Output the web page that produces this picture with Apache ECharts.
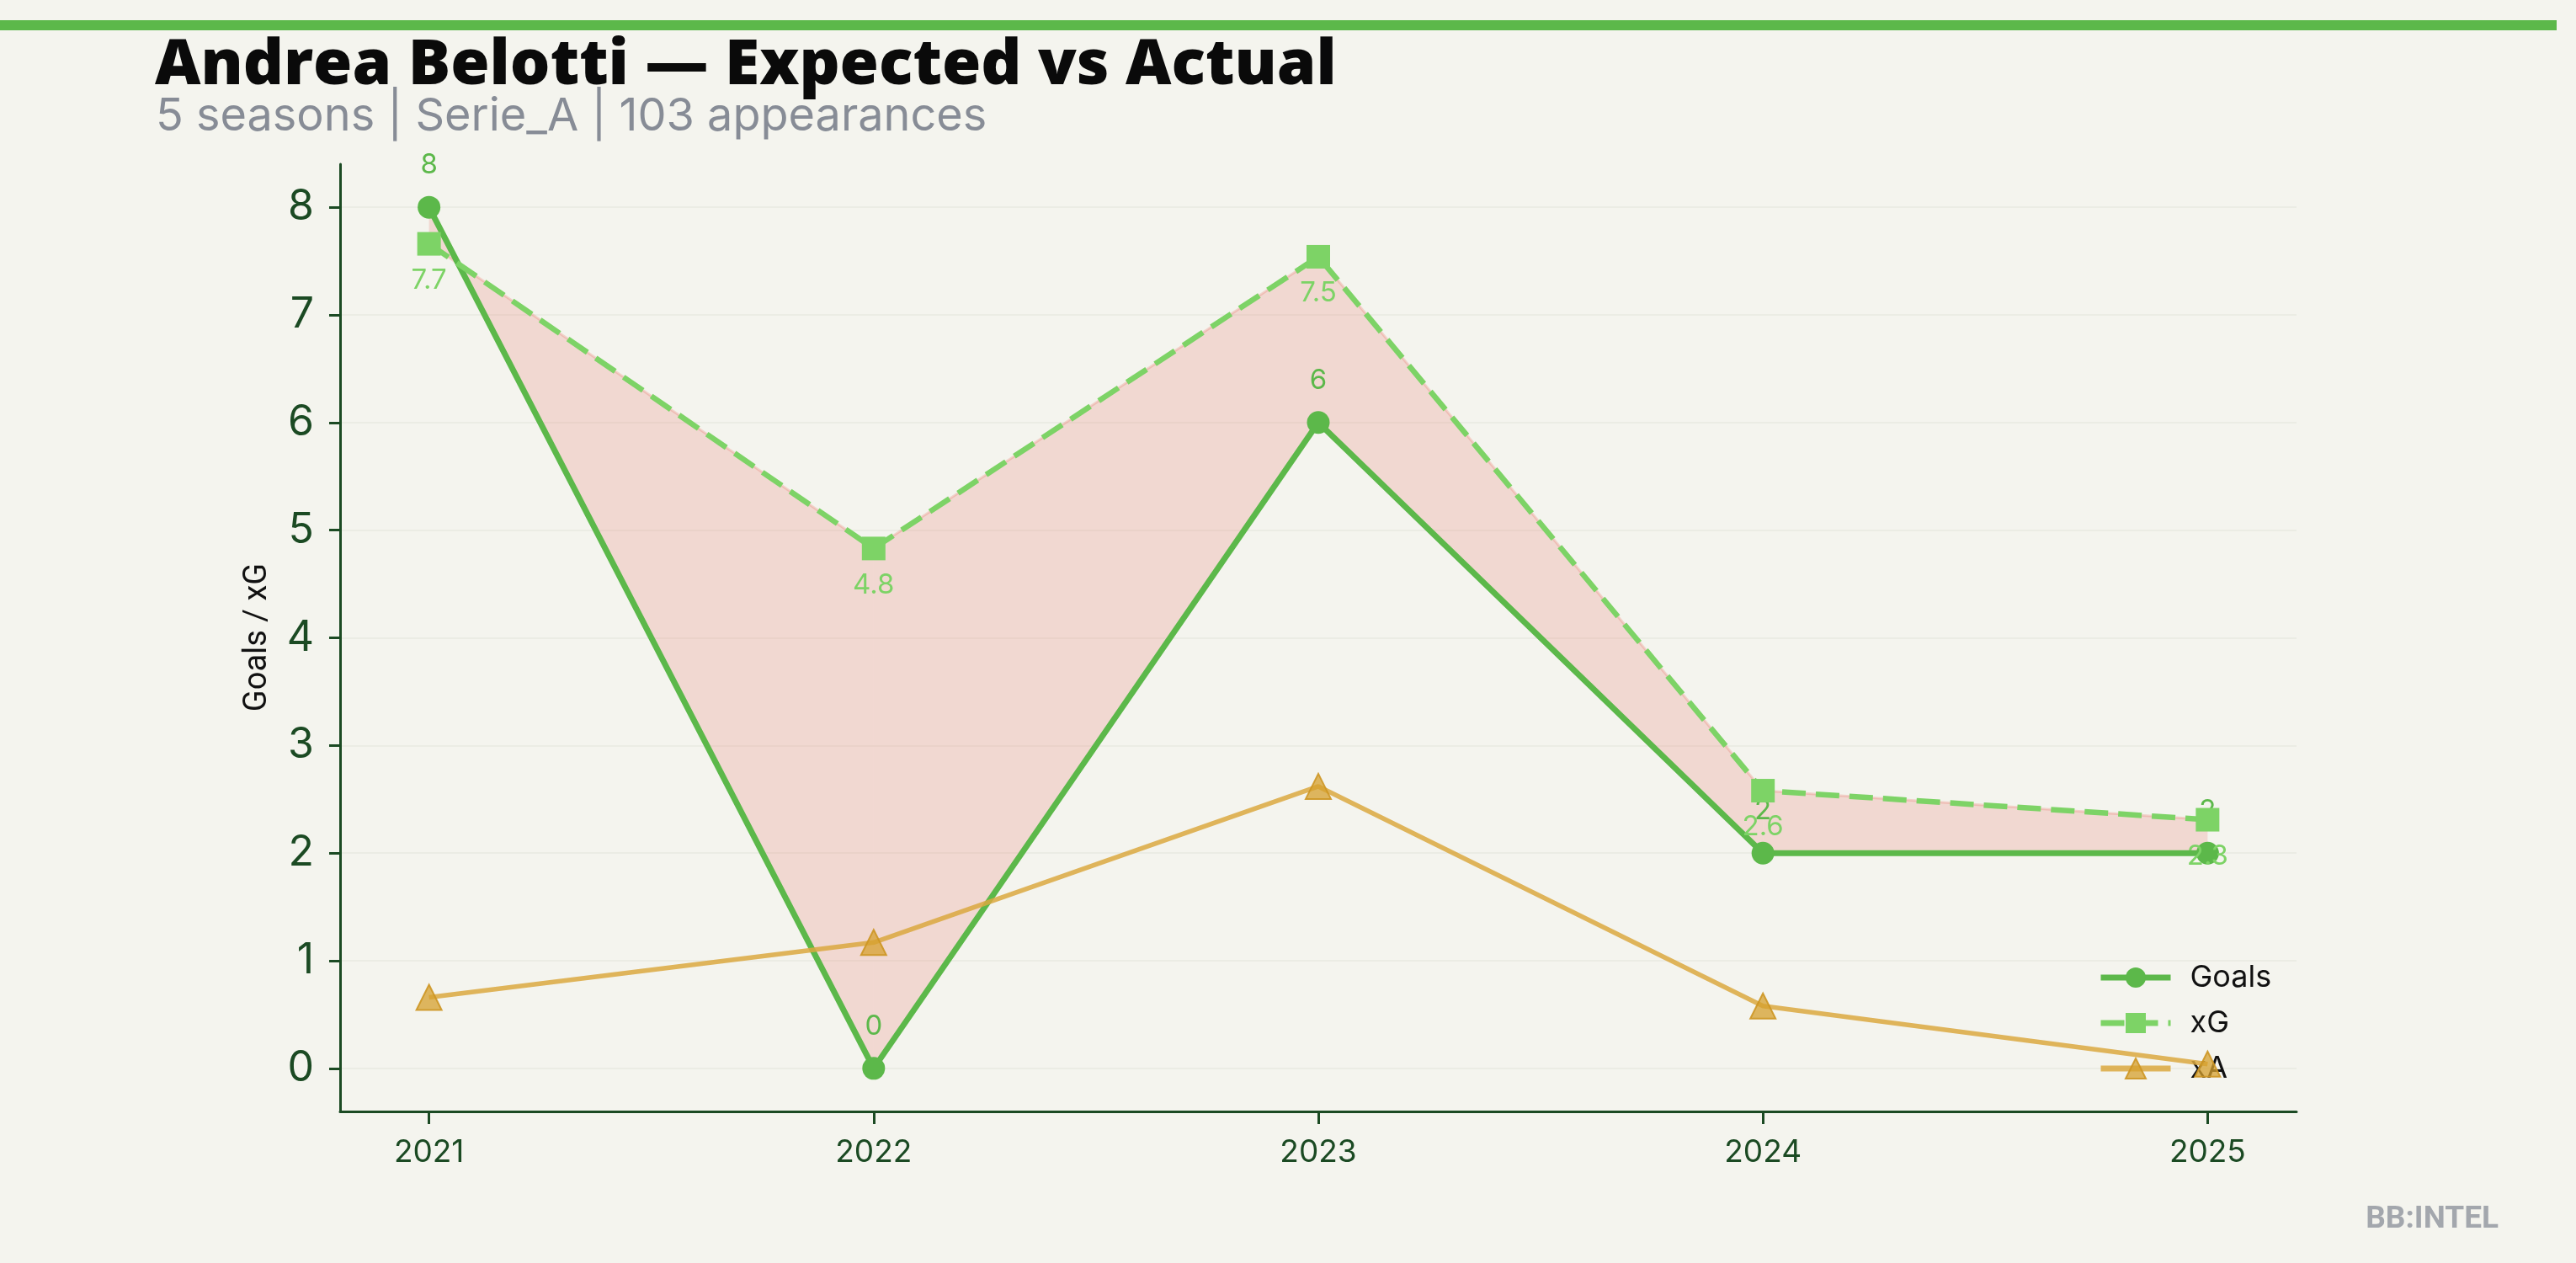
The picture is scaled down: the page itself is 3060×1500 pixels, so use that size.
<!DOCTYPE html>
<html>
<head>
<meta charset="utf-8">
<script src="https://cdn.jsdelivr.net/npm/echarts@6/dist/echarts.min.js"></script>
<style>
html,body{margin:0;padding:0;background:#f4f4ee;}
#chart{width:3060px;height:1500px;}
</style>
</head>
<body>
<div id="chart"></div>
<script>
const seasons = [2021, 2022, 2023, 2024, 2025];
const goals = [8, 0, 6, 2, 2];
const xG = [7.66, 4.83, 7.54, 2.58, 2.31];
const xA = [0.66, 1.17, 2.62, 0.58, 0.04];
const yTicks = [0, 1, 2, 3, 4, 5, 6, 7, 8];

const cGoals = '#5cb84a';
const cXG = '#7dd366';
const cXA = 'rgba(218,168,64,0.85)';
const axisColor = '#1b4a23';

const bandData = [];
for (let i = 0; i < seasons.length - 1; i++) {
  bandData.push([seasons[i], seasons[i+1], goals[i], goals[i+1], xG[i], xG[i+1]]);
}
const pairs = (ys) => seasons.map((s, i) => [s, ys[i]]);

const chart = echarts.init(document.getElementById('chart'));
chart.setOption({
  backgroundColor: '#f4f4ee',
  animation: false,
  title: [
    { text: 'Andrea Belotti — Expected vs Actual', left: 179, top: 36,
      textStyle: { fontFamily: 'Open Sans', fontWeight: 800, fontSize: 75, color: '#0a0a0a' } },
    { text: '5 seasons | Serie_A | 103 appearances', left: 180, top: 107,
      textStyle: { fontFamily: 'Inter', fontWeight: 400, fontSize: 54, color: '#878c96' } }
  ],
  graphic: [
    { type: 'rect', left: 0, top: 24, shape: { width: 3037, height: 12 }, style: { fill: cGoals } },
    { type: 'text', right: 92, top: 1430, style: { text: 'BB:INTEL', font: 'bold 37px Roboto', fill: '#a3a7ad' } },
    { type: 'text', x: 306, y: 757, rotation: Math.PI / 2,
      style: { text: 'Goals / xG', font: '38px Roboto', fill: '#111', align: 'center', verticalAlign: 'middle' } }
  ],
  grid: { left: 404, right: 332, top: 195, bottom: 180 },
  legend: {
    orient: 'vertical', left: 2487, top: 1138, itemWidth: 83, itemHeight: 30, itemGap: 18,
    lineStyle: { width: 7 },
    textStyle: { fontFamily: 'Inter', fontSize: 36, color: '#111', padding: [0, 0, 0, 18] },
    data: ['Goals', 'xG', 'xA']
  },
  xAxis: {
    type: 'value', min: 2020.8, max: 2025.2,
    axisLine: { show: true, onZero: false, lineStyle: { color: axisColor, width: 3 } },
    axisTick: { show: true, length: 15, lineStyle: { color: axisColor, width: 3 }, customValues: seasons },
    axisLabel: { customValues: seasons, margin: 30, fontFamily: 'Inter', fontSize: 37, color: axisColor,
      formatter: v => String(v) },
    splitLine: { show: false }
  },
  yAxis: {
    type: 'value', min: -0.4, max: 8.4,
    axisLine: { show: true, lineStyle: { color: axisColor, width: 3 } },
    axisTick: { show: true, length: 13, lineStyle: { color: axisColor, width: 3 }, customValues: yTicks },
    axisLabel: { customValues: yTicks, margin: 31, fontFamily: 'Inter', fontSize: 50, color: axisColor,
      formatter: v => String(v) },
    splitLine: { show: true, lineStyle: { color: '#ebece4', width: 2 } }
  },
  series: [
    {
      type: 'custom', name: 'band', silent: true, z: 1,
      data: bandData,
      encode: { x: [0, 1], y: [2, 3, 4, 5] },
      renderItem: (params, api) => {
        const p1 = api.coord([api.value(0), api.value(2)]);
        const p2 = api.coord([api.value(1), api.value(3)]);
        const p3 = api.coord([api.value(1), api.value(5)]);
        const p4 = api.coord([api.value(0), api.value(4)]);
        return {
          type: 'group',
          children: [
            { type: 'polygon', shape: { points: [p1, p2, p3, p4] },
              style: { fill: 'rgba(231,76,60,0.16)', stroke: null } },
            { type: 'polyline', shape: { points: [p4, p3] },
              style: { fill: null, stroke: 'rgba(231,76,60,0.2)', lineWidth: 3 } }
          ]
        };
      }
    },
    {
      name: 'Goals', type: 'line', data: pairs(goals), z: 3,
      symbol: 'circle', symbolSize: 27,
      lineStyle: { color: cGoals, width: 7 },
      itemStyle: { color: cGoals },
      label: { show: true, position: 'top', distance: 20, color: cGoals, fontFamily: 'Inter', fontSize: 33,
        formatter: p => String(p.value[1]) }
    },
    {
      name: 'xG', type: 'line', data: pairs(xG), z: 4,
      symbol: 'rect', symbolSize: 28,
      lineStyle: { color: cXG, width: 6.5, type: [28, 12] },
      itemStyle: { color: cXG },
      label: { show: true, position: 'bottom', distance: 13, color: cXG, fontFamily: 'Inter', fontSize: 33,
        formatter: p => p.value[1].toFixed(1) }
    },
    {
      name: 'xA', type: 'line', data: pairs(xA), z: 5,
      symbol: 'triangle', symbolSize: 30,
      lineStyle: { color: cXA, width: 5.5 },
      itemStyle: { color: 'rgba(214,160,45,0.75)', borderColor: 'rgba(205,150,35,0.9)', borderWidth: 2 }
    }
  ]
});
</script>
</body>
</html>
